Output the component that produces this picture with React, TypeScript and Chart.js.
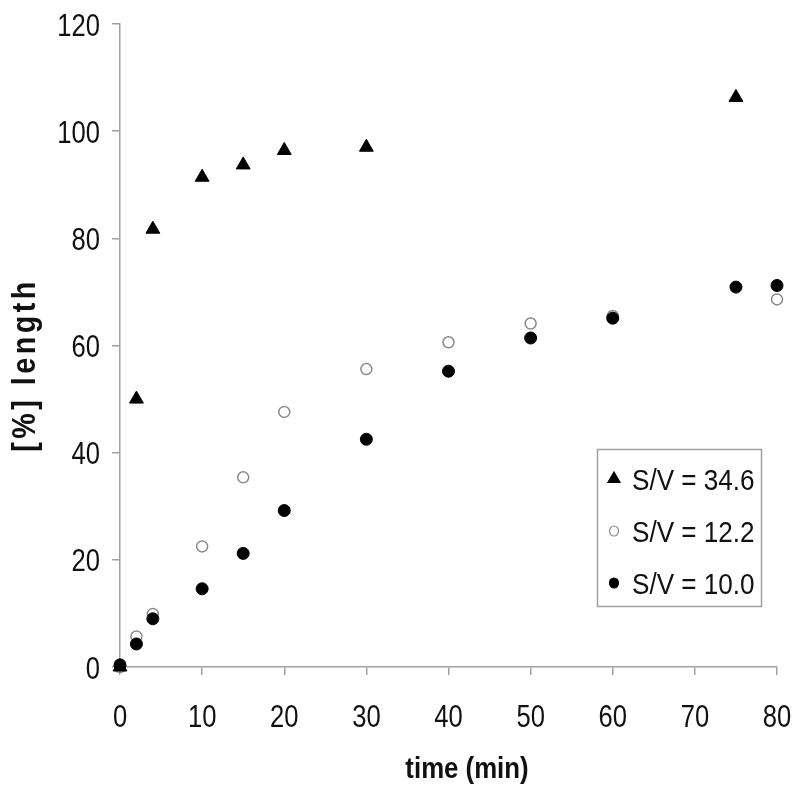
import React, { useEffect, useRef } from "react";
import { Chart, registerables } from "chart.js";

Chart.register(...registerables);

const timeTri = [0, 2, 4, 10, 15, 20, 30, 75];
const valTri = [0, 50, 81.7, 91.4, 93.7, 96.4, 97.0, 106.3];

const timeOpen = [0, 2, 4, 10, 15, 20, 30, 40, 50, 60, 80];
const valOpen = [0, 5.7, 9.9, 22.5, 35.4, 47.6, 55.6, 60.6, 64.1, 65.5, 68.6];

const timeFilled = [0, 2, 4, 10, 15, 20, 30, 40, 50, 60, 75, 80];
const valFilled = [0.4, 4.3, 9.0, 14.6, 21.2, 29.2, 42.5, 55.2, 61.4, 65.1, 70.9, 71.2];

const seriesLabels = ["S/V = 34.6", "S/V = 12.2", "S/V = 10.0"];
const xTitle = "time (min)";
const yTitle = "[%] length";

const FONT = '"Liberation Sans", Arial, sans-serif';

const toPts = (xs: number[], ys: number[]) => xs.map((x, i) => ({ x, y: ys[i] }));

function narrowText(
  ctx: CanvasRenderingContext2D,
  text: string,
  x: number,
  y: number,
  align: CanvasTextAlign,
  sx: number
) {
  ctx.save();
  ctx.translate(x, y);
  ctx.scale(sx, 1);
  ctx.textAlign = align;
  ctx.textBaseline = "alphabetic";
  ctx.fillText(text, 0, 0);
  ctx.restore();
}

const overlayPlugin = {
  id: "overlay",
  afterDraw(chart: any) {
    const ctx = chart.ctx as CanvasRenderingContext2D;
    const xs = chart.scales.x;
    const ys = chart.scales.y;

    // tick labels
    ctx.save();
    ctx.fillStyle = "#111";
    ctx.font = `32px ${FONT}`;
    xs.ticks.forEach((t: any, i: number) => {
      narrowText(ctx, String(t.value), xs.getPixelForTick(i), 727, "center", 0.8);
    });
    ys.ticks.forEach((t: any, i: number) => {
      narrowText(ctx, String(t.value), 100, ys.getPixelForTick(i) + 11.5, "right", 0.8);
    });
    ctx.restore();

    // y title
    ctx.save();
    ctx.fillStyle = "#111";
    ctx.font = `bold 33px ${FONT}`;
    (ctx as any).letterSpacing = "4px";
    ctx.translate(35, 365);
    ctx.rotate(-Math.PI / 2);
    ctx.scale(0.87, 1);
    ctx.textAlign = "center";
    ctx.textBaseline = "alphabetic";
    ctx.fillText(yTitle, 0, 0);
    ctx.restore();

    // x title
    ctx.save();
    ctx.fillStyle = "#111";
    ctx.font = `bold 30px ${FONT}`;
    narrowText(ctx, xTitle, 467, 778, "center", 0.86);
    ctx.restore();

    // legend
    ctx.save();
    const bx = 597.5, by = 449.5, bw = 164, bh = 157;
    ctx.fillStyle = "#fff";
    ctx.fillRect(bx, by, bw, bh);
    ctx.strokeStyle = "#a0a0a0";
    ctx.lineWidth = 1.5;
    ctx.strokeRect(bx, by, bw, bh);
    ctx.font = `29px ${FONT}`;
    chart.data.datasets.forEach((ds: any, i: number) => {
      const cy = 479 + i * 52;
      const mx = 614;
      ctx.beginPath();
      if (ds.pointStyle === "triangle") {
        const r = 7;
        ctx.moveTo(mx, cy - r);
        ctx.lineTo(mx + r * 0.866, cy + r * 0.5);
        ctx.lineTo(mx - r * 0.866, cy + r * 0.5);
        ctx.closePath();
      } else {
        ctx.ellipse(mx, cy, 4.5, 5, 0, 0, Math.PI * 2);
      }
      ctx.fillStyle = ds.pointBackgroundColor;
      ctx.fill();
      ctx.strokeStyle = ds.pointBorderColor;
      ctx.lineWidth = 1.2;
      ctx.stroke();
      ctx.fillStyle = "#111";
      narrowText(ctx, ds.label, 632, cy + 10.5, "left", 0.9);
    });
    ctx.restore();
  },
};

const zeroPad = (s: any) => {
  s.paddingTop = 0;
  s.paddingBottom = 0;
  s.paddingLeft = 0;
  s.paddingRight = 0;
};

export default function App() {
  const ref = useRef<HTMLCanvasElement | null>(null);
  useEffect(() => {
    if (!ref.current) return;
    const chart = new Chart(ref.current, {
      type: "scatter",
      data: {
        datasets: [
          {
            label: seriesLabels[0],
            data: toPts(timeTri, valTri),
            pointStyle: "triangle",
            pointRadius: 8,
            pointBackgroundColor: "#000",
            pointBorderColor: "#000",
            pointBorderWidth: 1,
            order: 0,
            clip: false as any,
          },
          {
            label: seriesLabels[1],
            data: toPts(timeOpen, valOpen),
            pointStyle: "circle",
            pointRadius: 5.5,
            pointBackgroundColor: "#fff",
            pointBorderColor: "#8a8a8a",
            pointBorderWidth: 1.5,
            order: 2,
            clip: false as any,
          },
          {
            label: seriesLabels[2],
            data: toPts(timeFilled, valFilled),
            pointStyle: "circle",
            pointRadius: 6,
            pointBackgroundColor: "#000",
            pointBorderColor: "#000",
            pointBorderWidth: 1,
            order: 1,
            clip: false as any,
          },
        ],
      },
      options: {
        animation: false,
        responsive: false,
        layout: { padding: { top: 24, right: 23, left: 0, bottom: 0 } },
        plugins: { legend: { display: false }, tooltip: { enabled: false } },
        scales: {
          x: {
            type: "linear",
            min: 0,
            max: 80,
            afterFit: (s: any) => {
              s.height = 124;
              zeroPad(s);
            },
            ticks: { stepSize: 10, display: false },
            grid: {
              drawOnChartArea: false,
              drawTicks: true,
              tickLength: 8,
              color: "#a0a0a0",
              lineWidth: 1.5,
            },
            border: { color: "#a0a0a0", width: 1.5 },
          },
          y: {
            type: "linear",
            min: 0,
            max: 120,
            afterFit: (s: any) => {
              s.width = 120;
              zeroPad(s);
            },
            ticks: { stepSize: 20, display: false },
            grid: {
              drawOnChartArea: false,
              drawTicks: true,
              tickLength: 8,
              color: "#a0a0a0",
              lineWidth: 1.5,
            },
            border: { color: "#a0a0a0", width: 1.5 },
          },
        },
      },
      plugins: [overlayPlugin],
    });
    return () => chart.destroy();
  }, []);
  return (
    <div style={{ position: "absolute", left: 0, top: 0, width: 800, height: 791, background: "#fff" }}>
      <canvas ref={ref} width={800} height={791} />
    </div>
  );
}
